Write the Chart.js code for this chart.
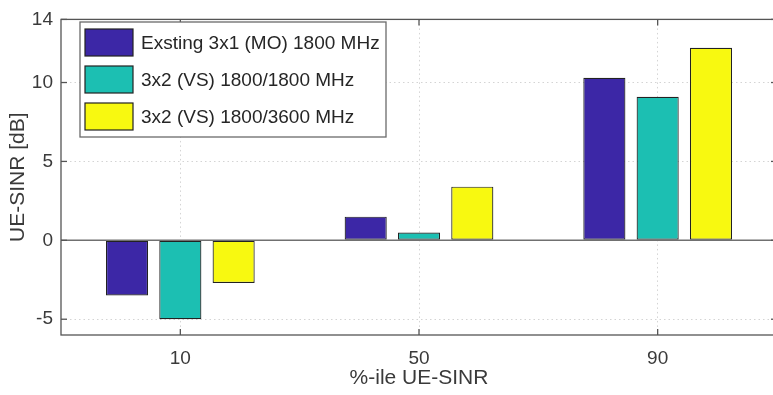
<!DOCTYPE html>
<html>
<head>
<meta charset="utf-8">
<script src="https://cdn.jsdelivr.net/npm/chart.js@4.4.1/dist/chart.umd.min.js"></script>
<style>
  html, body { margin: 0; padding: 0; background: #fff; overflow: hidden; }
</style>
</head>
<body>
<canvas id="sinrChart" width="778" height="395"></canvas>
<script>
// data
const categories = ['10', '50', '90'];
const seriesNames = ['Exsting 3x1 (MO) 1800 MHz', '3x2 (VS) 1800/1800 MHz', '3x2 (VS) 1800/3600 MHz'];
const existing3x1 = [-3.5, 1.5, 10.3];
const vs1800 = [-5.0, 0.5, 9.1];
const vs3600 = [-2.7, 3.4, 12.2];
const yTicks = [-5, 0, 5, 10, 14];

const colors = ['#3c27a6', '#1cbfb2', '#f8f910'];
const FONT = '"Liberation Sans", Arial, Helvetica, sans-serif';

// matlab style box, zero line and inward ticks
const axesBox = {
  id: 'axesBox',
  afterDatasetsDraw(chart) {
    const { ctx, chartArea: a, scales: { x, y } } = chart;
    const line = (x1, y1, x2, y2) => { ctx.beginPath(); ctx.moveTo(x1, y1); ctx.lineTo(x2, y2); ctx.stroke(); };
    ctx.save();
    ctx.strokeStyle = '#707070';
    ctx.lineWidth = 1.5;
    const y0 = y.getPixelForValue(0);
    line(a.left, y0, a.right, y0);

    ctx.strokeStyle = '#555';
    ctx.lineWidth = 1.3;
    ctx.strokeRect(a.left, a.top, a.right - a.left, a.bottom - a.top);
    y.ticks.forEach(t => {
      const py = y.getPixelForValue(t.value);
      line(a.left, py, a.left + 6, py);
      line(a.right - 6, py, a.right, py);
    });
    x.ticks.forEach((t, i) => {
      const px = x.getPixelForTick(i);
      line(px, a.bottom, px, a.bottom - 6);
      line(px, a.top, px, a.top + 6);
    });
    ctx.restore();
  }
};

// legend box inside the axes
const boxLegend = {
  id: 'boxLegend',
  afterDraw(chart, args, opts) {
    const { ctx } = chart;
    ctx.save();
    ctx.fillStyle = '#fff';
    ctx.fillRect(opts.left, opts.top, opts.width, opts.height);
    ctx.strokeStyle = '#6a6a6a';
    ctx.lineWidth = 1.3;
    ctx.strokeRect(opts.left, opts.top, opts.width, opts.height);
    ctx.font = '19px ' + FONT;
    ctx.textBaseline = 'middle';
    chart.data.datasets.forEach((ds, i) => {
      const cy = opts.firstRow + i * opts.rowH;
      ctx.fillStyle = ds.backgroundColor;
      ctx.fillRect(opts.left + 5, cy - 13.5, 48, 27);
      ctx.strokeStyle = '#222';
      ctx.lineWidth = 1.2;
      ctx.strokeRect(opts.left + 5, cy - 13.5, 48, 27);
      ctx.fillStyle = '#262626';
      ctx.fillText(ds.label, opts.left + 61, cy + 1);
    });
    ctx.restore();
  }
};

const seriesData = [existing3x1, vs1800, vs3600];

new Chart(document.getElementById('sinrChart'), {
  type: 'bar',
  data: {
    labels: categories,
    datasets: seriesData.map((d, i) => ({
      label: seriesNames[i],
      data: d,
      backgroundColor: colors[i],
      borderColor: '#222',
      borderWidth: 1.2,
      borderSkipped: false,
      categoryPercentage: 0.67,
      barPercentage: 0.79
    }))
  },
  options: {
    responsive: false,
    animation: false,
    layout: { padding: { top: 12, right: 1, bottom: 0, left: 0 } },
    plugins: {
      legend: { display: false },
      tooltip: { enabled: false },
      boxLegend: { left: 80, top: 22, width: 306, height: 115, firstRow: 42.5, rowH: 37 }
    },
    scales: {
      x: {
        grid: { offset: false, drawTicks: false, color: '#d4d4d4', lineWidth: 1 },
        border: { display: false, dash: [1.5, 3] },
        ticks: { color: '#3a3a3a', font: { family: FONT, size: 19 }, padding: 12 },
        title: { display: true, text: '%-ile UE-SINR', color: '#3a3a3a', font: { family: FONT, size: 21 }, padding: { top: 0, bottom: 4 } },
        afterFit(scale) { scale.height = 60; }
      },
      y: {
        min: -6,
        max: 14,
        afterBuildTicks(scale) { scale.ticks = yTicks.map(v => ({ value: v })); },
        grid: {
          drawTicks: false,
          lineWidth: 1,
          color: ctx => (ctx.tick && (ctx.tick.value === 0 || ctx.tick.value === 14)) ? 'rgba(0,0,0,0)' : '#d4d4d4'
        },
        border: { display: false, dash: [1.5, 3] },
        ticks: { color: '#3a3a3a', font: { family: FONT, size: 19 }, padding: 8 },
        title: { display: true, text: 'UE-SINR [dB]', color: '#3a3a3a', font: { family: FONT, size: 21 }, padding: { top: 6, bottom: 0 } },
        afterFit(scale) { scale.width = 61; }
      }
    }
  },
  plugins: [axesBox, boxLegend]
});
</script>
</body>
</html>
